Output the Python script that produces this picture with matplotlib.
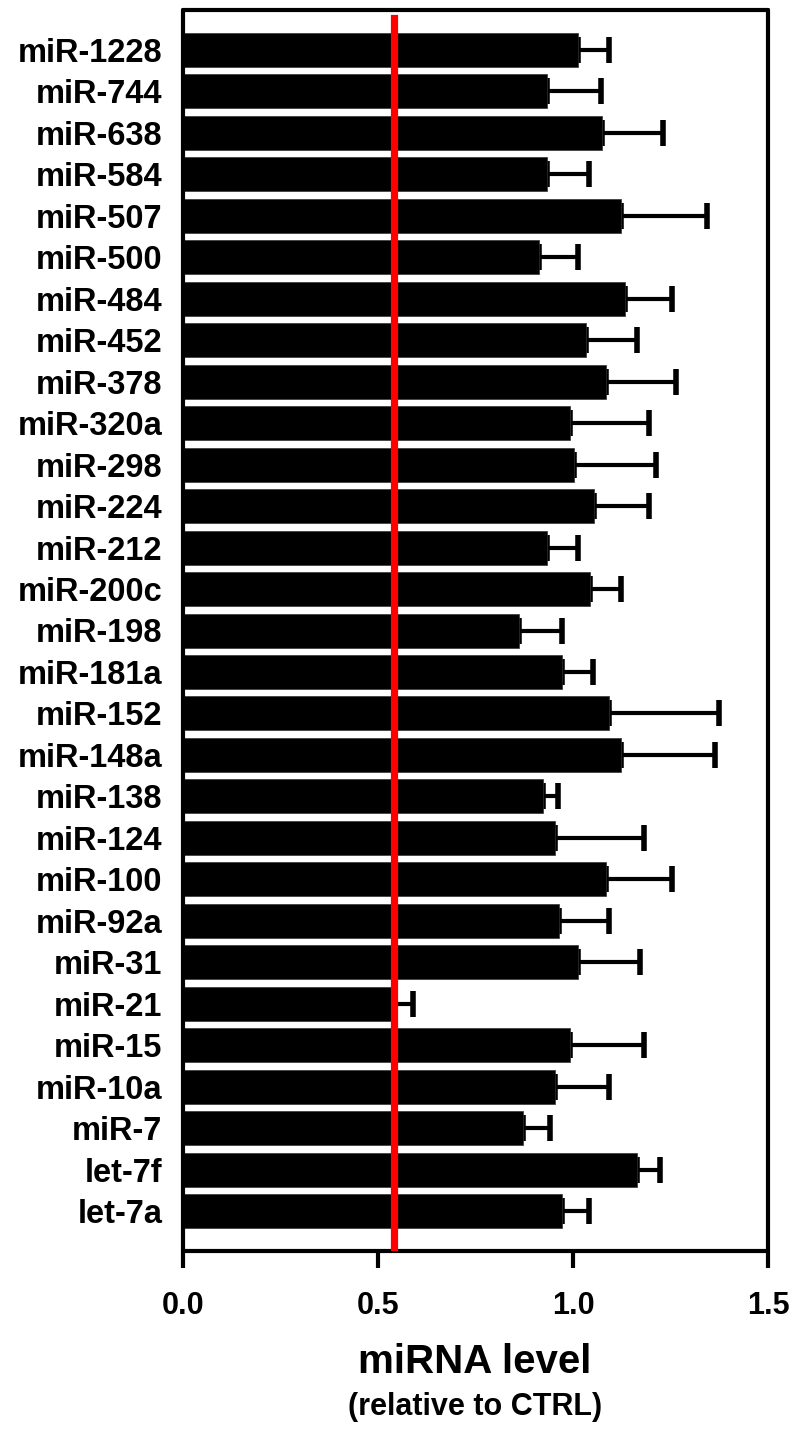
import matplotlib
matplotlib.use("Agg")
import matplotlib.pyplot as plt
import numpy as np

plt.rcParams['font.family'] = ['Liberation Sans', 'DejaVu Sans']
plt.rcParams['font.weight'] = 'bold'

# top to bottom as in the picture
labels = ["miR-1228", "miR-744", "miR-638", "miR-584", "miR-507", "miR-500",
          "miR-484", "miR-452", "miR-378", "miR-320a", "miR-298", "miR-224",
          "miR-212", "miR-200c", "miR-198", "miR-181a", "miR-152", "miR-148a",
          "miR-138", "miR-124", "miR-100", "miR-92a", "miR-31", "miR-21",
          "miR-15", "miR-10a", "miR-7", "let-7f", "let-7a"]
values = [1.014, 0.933, 1.074, 0.933, 1.124, 0.914, 1.134, 1.033, 1.085, 0.993,
          1.003, 1.054, 0.933, 1.044, 0.862, 0.973, 1.093, 1.124, 0.923, 0.953,
          1.084, 0.963, 1.014, 0.535, 0.993, 0.953, 0.873, 1.164, 0.973]
upper = [1.092, 1.072, 1.232, 1.042, 1.344, 1.012, 1.254, 1.163, 1.264, 1.194,
         1.213, 1.194, 1.012, 1.123, 0.972, 1.052, 1.374, 1.364, 0.962, 1.183,
         1.253, 1.092, 1.173, 0.590, 1.183, 1.092, 0.941, 1.223, 1.042]
ref_line = 0.54
xticks = [0.0, 0.5, 1.0, 1.5]

W, H = 796, 1430
fig = plt.figure(figsize=(W / 100, H / 100), dpi=100)
ax = fig.add_axes([183 / W, 1 - 1251 / H, (768 - 183) / W, (1251 - 10) / H])

n = len(labels)
ypos = np.arange(n)[::-1]
vals = np.array(values)
errs = np.array(upper) - vals
ax.barh(ypos, vals, height=0.82, color='black', edgecolor='#333333', linewidth=0.5, zorder=2)
ax.errorbar(vals, ypos, xerr=[np.zeros(n), errs], fmt='none', ecolor='black',
            elinewidth=3, capsize=9.5, capthick=4, zorder=1)

ax.axvline(ref_line, ymin=0.0025, ymax=0.9936, color='#ff0000', linewidth=5.2, zorder=3)

ax.set_xlim(0, 1.5)
ax.set_ylim(-0.965, n - 1 + 0.965)
ax.set_xticks(xticks)
ax.set_xticklabels([f"{t:.1f}" for t in xticks], fontsize=22, fontweight='bold')
ax.set_yticks(ypos)
ax.set_yticklabels(labels, fontsize=23.5, fontweight='bold')
ax.tick_params(axis='y', length=0, pad=15)
ax.tick_params(axis='x', length=12, width=3, pad=17, direction='out')
for s in ax.spines.values():
    s.set_linewidth(3)
    s.set_capstyle('round')

fig.text(475 / W, 1 - 1362 / H, "miRNA level", ha='center', va='center',
         fontsize=29, fontweight='bold')
fig.text(475 / W, 1 - 1407 / H, "(relative to CTRL)", ha='center', va='center',
         fontsize=22, fontweight='bold')

fig.savefig("out.png", dpi=100)
